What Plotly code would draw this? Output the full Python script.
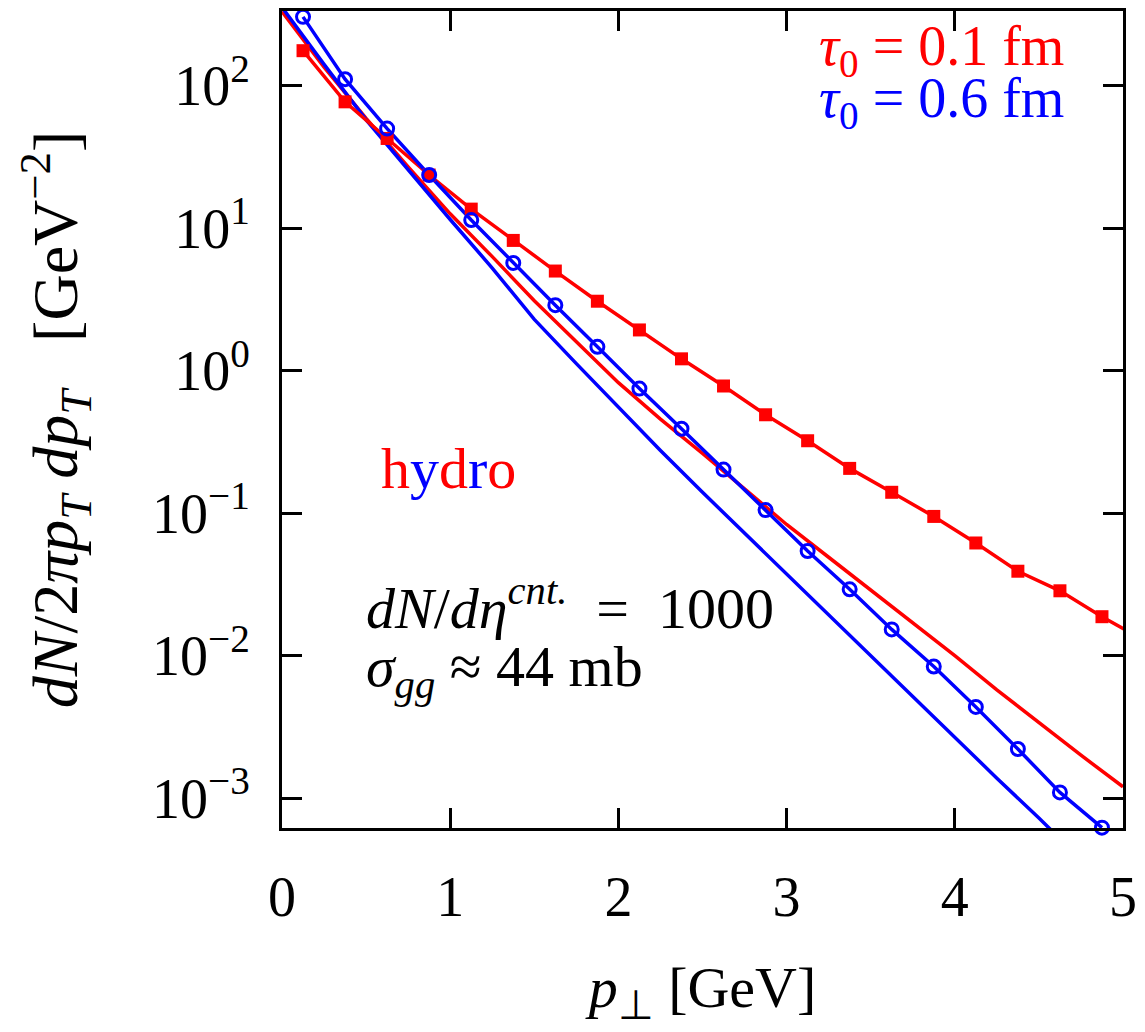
import plotly.graph_objects as go

# transverse momentum grid of the transport results (GeV)
pt_transport = [0.125, 0.375, 0.625, 0.875, 1.125, 1.375, 1.625, 1.875, 2.125, 2.375,
                2.625, 2.875, 3.125, 3.375, 3.625, 3.875, 4.125, 4.375, 4.625, 4.875, 5.125]

# transport spectra, dN/2pi pT dpT [GeV^-2]
spec_tau01 = [176, 77, 42.6, 23.6, 13.6, 8.2, 5.0, 3.07, 1.93, 1.21,
              0.78, 0.49, 0.322, 0.206, 0.140, 0.0948, 0.0617, 0.0391, 0.0285, 0.01875, 0.0128]
spec_tau06 = [304, 111, 50, 23.6, 11.4, 5.7, 2.88, 1.47, 0.748, 0.391,
              0.202, 0.105, 0.0542, 0.0292, 0.01527, 0.00838, 0.00436, 0.00221, 0.001096, 0.00062]

# ideal hydro curves
pt_hydro = [0.0, 0.25, 0.5, 0.75, 1.0, 1.25, 1.5, 1.75, 2.0, 2.25, 2.5, 2.75,
            3.0, 3.25, 3.5, 3.75, 4.0, 4.25, 4.5, 4.75, 5.0]
hydro_tau01 = [331, 135, 58.9, 26.9, 12.6, 6.31, 3.09, 1.58, 0.823, 0.457, 0.263, 0.148,
               0.0832, 0.0490, 0.0288, 0.0170, 0.0100, 0.00575, 0.00339, 0.00200, 0.00120]
hydro_tau06 = [355, 141, 57.5, 25.7, 11.5, 5.25, 2.29, 1.12, 0.550, 0.275, 0.140, 0.0724,
               0.0372, 0.0191, 0.0100, 0.00513, 0.00269, 0.00138, 0.000724, 0.000372]

RED = "#ff0000"
BLUE = "#0000ff"
FONT = "Liberation Serif"
XMAX = 5.0

fig = go.Figure()

# hydro reference curves
fig.add_trace(go.Scatter(x=pt_hydro, y=hydro_tau01, mode="lines",
                         line=dict(color=RED, width=3.5), showlegend=False))
fig.add_trace(go.Scatter(x=pt_hydro[:len(hydro_tau06)], y=hydro_tau06, mode="lines",
                         line=dict(color=BLUE, width=3.5), showlegend=False))

# transport results: connecting lines
fig.add_trace(go.Scatter(x=pt_transport[:len(spec_tau01)], y=spec_tau01, mode="lines",
                         line=dict(color=RED, width=3.5), showlegend=False))
fig.add_trace(go.Scatter(x=pt_transport[:len(spec_tau06)], y=spec_tau06, mode="lines",
                         line=dict(color=BLUE, width=3.5), showlegend=False))

# transport results: point symbols (only those inside the pT window)
def inside(xs, ys):
    pairs = [(a, b) for a, b in zip(xs, ys) if a <= XMAX]
    return [p[0] for p in pairs], [p[1] for p in pairs]

xr, yr = inside(pt_transport, spec_tau01)
fig.add_trace(go.Scatter(x=xr, y=yr, mode="markers", cliponaxis=False,
                         marker=dict(symbol="square", size=13, color=RED),
                         showlegend=False))
xb, yb = inside(pt_transport, spec_tau06)
fig.add_trace(go.Scatter(x=xb, y=yb, mode="markers", cliponaxis=False,
                         marker=dict(symbol="circle-open", size=13, color=BLUE,
                                     line=dict(width=3, color=BLUE)),
                         showlegend=False))

axis_common = dict(
    showline=True, linecolor="black", linewidth=3, mirror="ticks",
    ticks="inside", ticklen=20, tickwidth=3, tickcolor="black",
    showgrid=False, zeroline=False,
    tickfont=dict(family=FONT, size=56, color="black"),
)

fig.update_xaxes(
    range=[0, 5], tickvals=[0, 1, 2, 3, 4, 5], ticktext=["0", "1", "2", "3", "4", "5"],
    ticklabelstandoff=18,
    title=dict(text="<i>p</i><sub>⊥</sub> [GeV]", font=dict(family=FONT, size=58, color="black"),
               standoff=40),
    **axis_common,
)

y_ticks = [1e-3, 1e-2, 1e-1, 1, 10, 100]
y_text = ["10<sup>−3</sup>", "10<sup>−2</sup>", "10<sup>−1</sup>",
          "10<sup>0</sup>", "10<sup>1</sup>", "10<sup>2</sup>"]
fig.update_yaxes(
    type="log", range=[-3.21, 2.524], tickvals=y_ticks, ticktext=y_text,
    ticklabelstandoff=18,
    title=dict(text=("<i>dN</i>/2<i>πp</i><sub><i>T</i></sub> <i>dp</i><sub><i>T</i></sub>"
                     "   [GeV<sup>−2</sup>]"),
               font=dict(family=FONT, size=64, color="black"), standoff=54),
    **axis_common,
)

ann_font = dict(family=FONT, size=58)
fig.add_annotation(xref="paper", yref="paper", x=0.932, y=0.952, xanchor="right", yanchor="middle",
                   text="<i>τ</i><sub>0</sub> = 0.1 fm", showarrow=False,
                   font=dict(color=RED, family=FONT, size=56))
fig.add_annotation(xref="paper", yref="paper", x=0.932, y=0.889, xanchor="right", yanchor="middle",
                   text="<i>τ</i><sub>0</sub> = 0.6 fm", showarrow=False,
                   font=dict(color=BLUE, family=FONT, size=56))
fig.add_annotation(xref="paper", yref="paper", x=0.198, y=0.4402, xanchor="center", yanchor="middle",
                   text=(f"<span style='color:{RED}'>h</span><span style='color:{BLUE}'>y</span>"
                         f"<span style='color:{RED}'>d</span><span style='color:{BLUE}'>r</span>"
                         f"<span style='color:{RED}'>o</span>"),
                   showarrow=False, font=ann_font)
fig.add_annotation(xref="paper", yref="paper", x=0.0979, y=0.273, xanchor="left", yanchor="middle",
                   text="<i>dN</i>/<i>dη</i><sup><i>cnt.</i></sup>  =  1000", showarrow=False,
                   font=dict(color="black", **ann_font))
fig.add_annotation(xref="paper", yref="paper", x=0.0979, y=0.193, xanchor="left", yanchor="middle",
                   text="<i>σ</i><sub><i>gg</i></sub> ≈ 44 mb", showarrow=False,
                   font=dict(color="black", **ann_font))

fig.update_layout(
    width=1145, height=1032,
    margin=dict(l=282, r=15, t=8, b=204),
    paper_bgcolor="white", plot_bgcolor="white",
    showlegend=False,
)

fig.write_html("out.html")
